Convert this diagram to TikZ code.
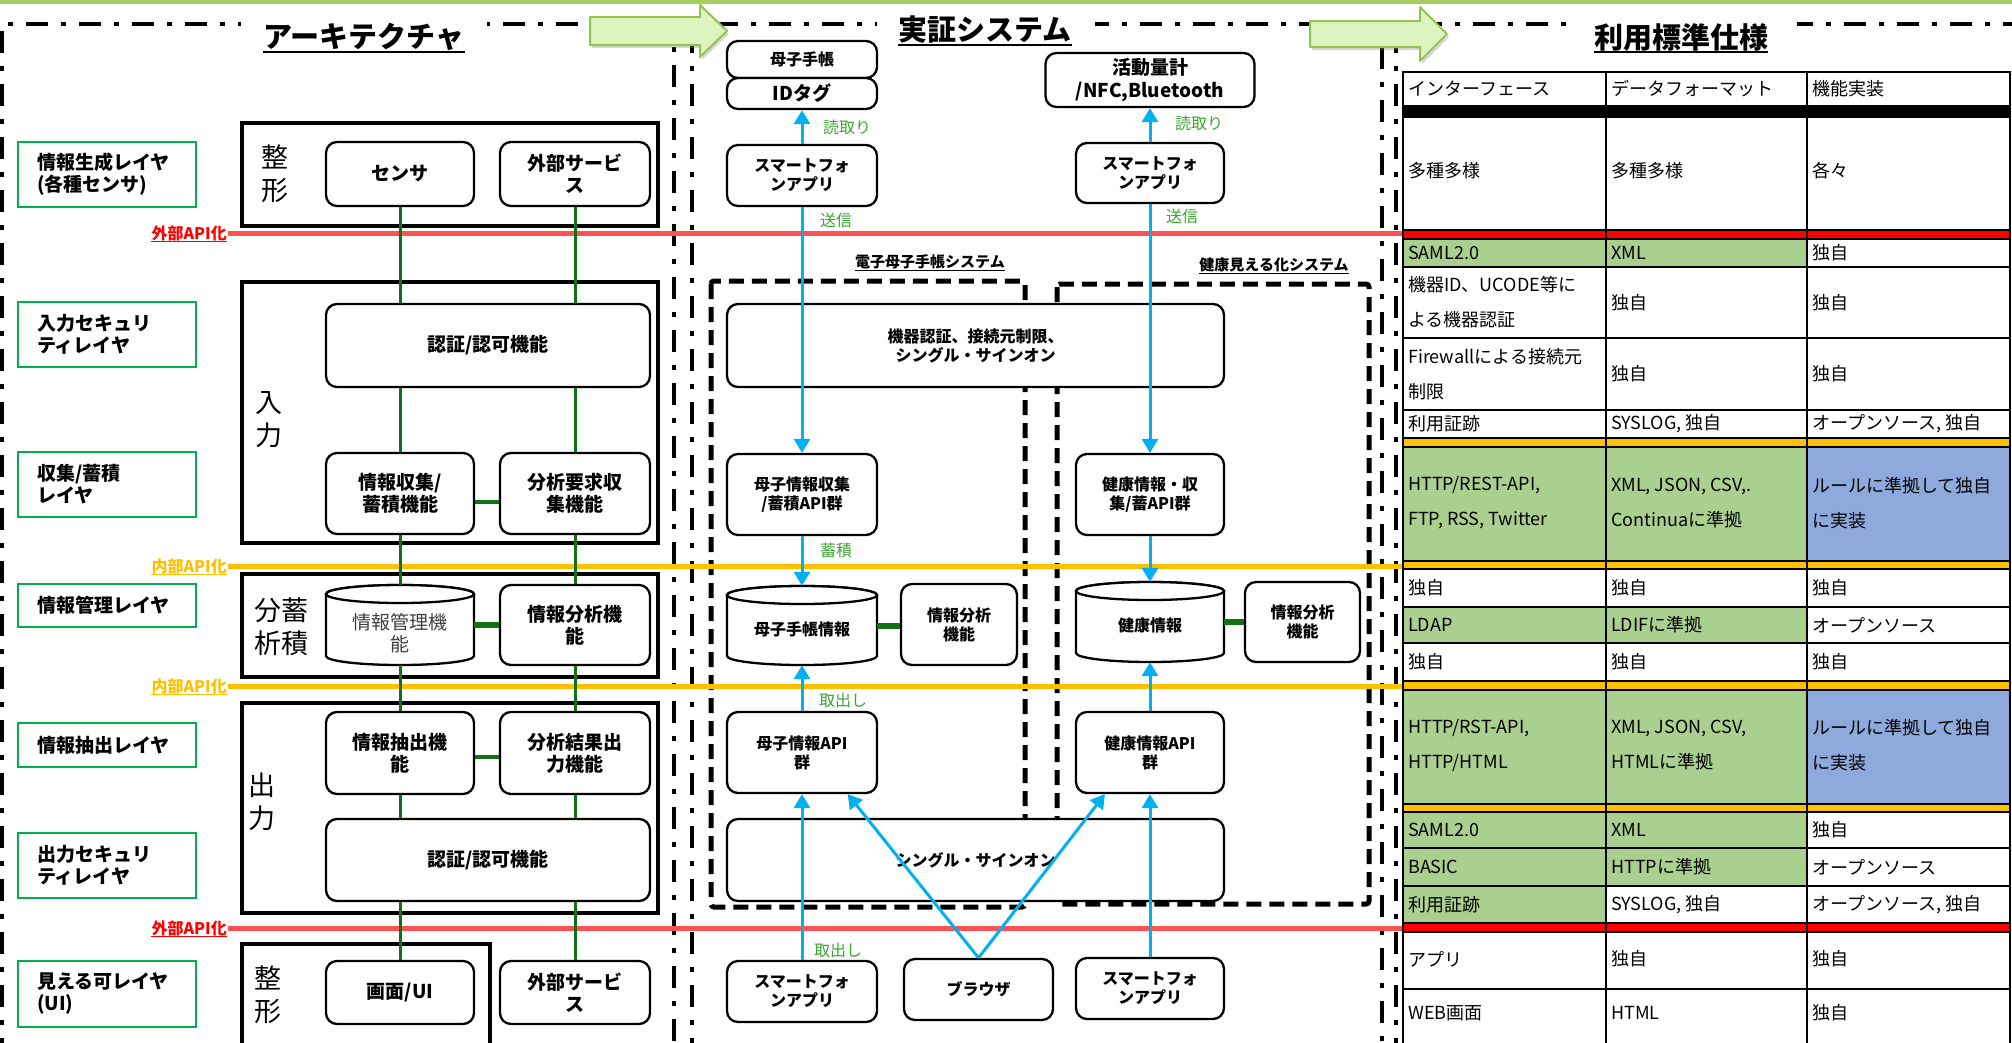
\documentclass[tikz,border=0pt]{standalone}
\usepackage{fontspec}
\setmainfont{Noto Sans CJK JP}
\usetikzlibrary{arrows.meta,calc,shadows}
\definecolor{lgreen}{RGB}{0,176,80}
\definecolor{dgreen}{RGB}{20,112,20}
\definecolor{skyblue}{RGB}{0,176,240}
\definecolor{lbl}{RGB}{60,165,50}
\definecolor{apired}{RGB}{255,82,82}
\definecolor{apiorange}{RGB}{255,192,0}
\definecolor{cellgreen}{RGB}{169,208,142}
\definecolor{cellblue}{RGB}{142,169,219}
\definecolor{topline}{RGB}{163,206,96}
\definecolor{arrowfill}{RGB}{222,244,192}
\definecolor{arrowedge}{RGB}{150,195,80}
\definecolor{bandred}{RGB}{255,0,0}
\definecolor{cyltext}{RGB}{64,64,64}
\newcommand\myfs[2]{\fontsize{#1}{#2}\selectfont}
% cylinder outline: left, top, right, bottom (screen coordinates)
\newcommand\drawcyl[4]{%
  \draw[cylline] (#1,#2+9) -- (#1,#4-9)
    arc[start angle=180, end angle=0, x radius={(#3-#1)/2}, y radius=9]
    -- (#3,#2+9)
    arc[start angle=0, end angle=-180, x radius={(#3-#1)/2}, y radius=9] -- cycle;
  \draw[cylline] ({(#1+#3)/2},#2+9) ellipse[x radius={(#3-#1)/2}, y radius=9];
}
\newcommand\tcell[4]{\node[cell] (#1) at (#2,#3) {#4};}
\begin{document}
\begin{tikzpicture}[x=1pt,y=-1pt,
  every node/.style={inner sep=0pt},
  rbox/.style={draw, line width=2.3pt, rounded corners=11pt, fill=white, align=center, font=\bfseries\myfs{19}{22}},
  mbox/.style={rbox, font=\bfseries\myfs{16}{19}},
  grpbox/.style={draw, line width=4.5pt},
  layerbox/.style={draw=lgreen, line width=1.6pt, align=left, text width=140pt, minimum width=178pt, font=\bfseries\myfs{19}{22}},
  sidelbl/.style={font=\myfs{27}{33}, align=center},
  gline/.style={draw=dgreen, line width=3pt},
  glink/.style={draw=dgreen, line width=5pt},
  barrow/.style={draw=skyblue, line width=3pt, -{Triangle[width=16pt,length=14pt]}},
  glbl/.style={text=lbl, font=\myfs{16}{19}},
  framel/.style={line width=4.5pt, dash pattern=on 22pt off 13pt on 5pt off 13pt},
  sysbox/.style={line width=5pt, dash pattern=on 15pt off 8pt, rounded corners=3pt},
  ttl/.style={font=\bfseries\myfs{29}{34}},
  syslbl/.style={font=\bfseries\myfs{15}{18}},
  apilbl/.style={font=\bfseries\myfs{16}{19}, anchor=east},
  cell/.style={anchor=west, align=left, font=\myfs{18}{35}},
  tgrid/.style={line width=2.4pt},
  cylline/.style={draw, line width=2.3pt, fill=white},
  blockarr/.style={fill=arrowfill, draw=arrowedge, line width=2pt, line join=round,
    drop shadow={opacity=0.3, shadow xshift=2pt, shadow yshift=-3pt}}
]
\useasboundingbox (0,0) rectangle (2012,1042);
\clip (0,0) rectangle (2012,1042);
\fill[white] (0,0) rectangle (2012,1042);
\fill[topline] (0,0) rectangle (2012,4);

% ---------- section frames ----------
\draw[framel] (2,1060) -- (2,24) -- (674,24) -- (674,1060);
\draw[framel] (692,1060) -- (692,24) -- (1382,24) -- (1382,1060);
\draw[framel] (1396,1060) -- (1396,24) -- (2040,24);

% ---------- section titles ----------
\fill[white] (241,9) rectangle (487,56);
\fill[white] (877,6) rectangle (1095,48);
\fill[white] (1573,9) rectangle (1797,56);
\node[ttl] (tArch) at (364,37) {アーキテクチャ};
\node[ttl] (tDemo) at (985,30) {実証システム};
\node[ttl] (tSpec) at (1681,37) {利用標準仕様};
\foreach \t in {tArch,tDemo,tSpec}
  \draw[line width=2pt] ([yshift=-1pt]\t.south west) -- ([yshift=-1pt]\t.south east);

% ---------- block arrows between sections ----------
\draw[blockarr] (590,17) -- (700,17) -- (700,5) -- (727,31) -- (700,57) -- (700,45) -- (590,45) -- cycle;
\draw[blockarr] (1310,21) -- (1420,21) -- (1420,7) -- (1447,34) -- (1420,61) -- (1420,47) -- (1310,47) -- cycle;

% ---------- system boundaries (middle) ----------
\draw[sysbox] (711,281) rectangle (1025,907);
\draw[sysbox] (1057,284) rectangle (1369,904);
\node[syslbl] (sysA) at (930,262) {電子母子手帳システム};
\node[syslbl] (sysB) at (1274,265) {健康見える化システム};
\foreach \t in {sysA,sysB}
  \draw[line width=1.5pt] ([yshift=-1pt]\t.south west) -- ([yshift=-1pt]\t.south east);

% ---------- API boundary lines ----------
\draw[apired, line width=5pt] (228,233) -- (1403,233);
\draw[apiorange, line width=5pt] (228,566) -- (1403,566);
\draw[apiorange, line width=5pt] (228,686) -- (1403,686);
\draw[apired, line width=5pt] (228,928) -- (1403,928);
\node[apilbl, text=bandred] (x1) at (227,233) {外部API化};
\node[apilbl, text=apiorange] (i1) at (227,566) {内部API化};
\node[apilbl, text=apiorange] (i2) at (227,686) {内部API化};
\node[apilbl, text=bandred] (x2) at (227,928) {外部API化};
\draw[bandred, line width=1.2pt] ([yshift=-1pt]x1.south west) -- ([yshift=-1pt]x1.south east);
\draw[apiorange, line width=1.2pt] ([yshift=-1pt]i1.south west) -- ([yshift=-1pt]i1.south east);
\draw[apiorange, line width=1.2pt] ([yshift=-1pt]i2.south west) -- ([yshift=-1pt]i2.south east);
\draw[bandred, line width=1.2pt] ([yshift=-1pt]x2.south west) -- ([yshift=-1pt]x2.south east);

% ---------- architecture: layers ----------
\node[layerbox, minimum height=65pt] (L1) at (107,174.5) {情報生成レイヤ\\(各種センサ)};
\node[layerbox, minimum height=65pt] (L2) at (107,334.5) {入力セキュリ\\ティレイヤ};
\node[layerbox, minimum height=65pt] (L3) at (107,484.5) {収集/蓄積\\レイヤ};
\node[layerbox, minimum height=43pt] (L4) at (107,605.5) {情報管理レイヤ};
\node[layerbox, minimum height=44pt] (L5) at (107,745) {情報抽出レイヤ};
\node[layerbox, minimum height=65pt] (L6) at (107,865.5) {出力セキュリ\\ティレイヤ};
\node[layerbox, minimum height=66pt] (L7) at (107,994) {見える可レイヤ\\(UI)};

% ---------- architecture: groups ----------
\draw[grpbox] (242,123) rectangle (658,226);
\draw[grpbox] (242,282) rectangle (658,543);
\draw[grpbox] (242,574) rectangle (658,677);
\draw[grpbox] (242,703) rectangle (658,913);
\draw[grpbox] (242,944) rectangle (490,1070);
\node[sidelbl] (s1) at (275,174) {整\\形};
\node[sidelbl] (s2) at (269,420) {入\\力};
\node[sidelbl] (s3) at (281,627) {分蓄\\析積};
\node[sidelbl] (s4) at (262,802) {出\\力};
\node[sidelbl] (s5) at (268,995) {整\\形};

% ---------- architecture: functions ----------
\node[rbox, minimum width=148pt, minimum height=64pt] (sensor) at (400,174) {センサ};
\node[rbox, minimum width=150pt, minimum height=64pt] (extA) at (575,174) {外部サービ\\ス};
\node[rbox, minimum width=324pt, minimum height=83pt] (authIn) at (488,345.5) {認証/認可機能};
\node[rbox, minimum width=148pt, minimum height=81pt] (collect) at (400,493.5) {情報収集/\\蓄積機能};
\node[rbox, minimum width=150pt, minimum height=81pt] (anreq) at (575,493.5) {分析要求収\\集機能};
\drawcyl{326}{585}{474}{665}
\node[minimum width=148pt, minimum height=80pt] (cylL) at (400,625) {};
\node[font=\myfs{19}{22}, text=cyltext, align=center] (cylLt) at (400,633) {情報管理機\\能};
\node[rbox, minimum width=150pt, minimum height=80pt] (anaL) at (575,625) {情報分析機\\能};
\node[rbox, minimum width=148pt, minimum height=82pt] (extract) at (400,753) {情報抽出機\\能};
\node[rbox, minimum width=150pt, minimum height=82pt] (anout) at (575,753) {分析結果出\\力機能};
\node[rbox, minimum width=324pt, minimum height=82pt] (authOut) at (488,860) {認証/認可機能};
\node[rbox, minimum width=148pt, minimum height=63pt] (ui) at (400,992.5) {画面/UI};
\node[rbox, minimum width=150pt, minimum height=63pt] (extB) at (575,992.5) {外部サービ\\ス};

\draw[gline] (sensor.south) -- (authIn.north -| sensor.south);
\draw[gline] (extA.south) -- (authIn.north -| extA.south);
\draw[gline] (authIn.south -| collect.north) -- (collect.north);
\draw[gline] (authIn.south -| anreq.north) -- (anreq.north);
\draw[glink, line width=4pt] ([yshift=-8pt]collect.east) -- ([yshift=-8pt]anreq.west);
\draw[gline] (collect.south) -- (cylL.north);
\draw[gline] (anreq.south) -- (anaL.north);
\draw[glink, line width=6pt] (cylL.east) -- (anaL.west);
\draw[gline] (cylL.south) -- (extract.north);
\draw[gline] (anaL.south) -- (anout.north);
\draw[glink, line width=4pt] ([yshift=-4pt]extract.east) -- ([yshift=-4pt]anout.west);
\draw[gline] (extract.south) -- (authOut.north -| extract.south);
\draw[gline] (anout.south) -- (authOut.north -| anout.south);
\draw[gline] (authOut.south -| ui.north) -- (ui.north);
\draw[gline] (authOut.south -| extB.north) -- (extB.north);

% ---------- demonstration system ----------
\node[mbox, minimum width=150pt, minimum height=37pt] (mch) at (802,59.5) {母子手帳};
\node[mbox, minimum width=150pt, minimum height=31pt, font=\bfseries\myfs{19}{22}] (idtag) at (802,93.5) {IDタグ};
\node[mbox, minimum width=150pt, minimum height=61pt] (spL1) at (802,175.5) {スマートフォ\\ンアプリ};
\node[mbox, minimum width=209pt, minimum height=54pt, font=\bfseries\myfs{19}{23}] (act) at (1150,80) {活動量計\\/NFC,Bluetooth};
\node[mbox, minimum width=148pt, minimum height=60pt] (spR1) at (1150,173) {スマートフォ\\ンアプリ};
\node[mbox, minimum width=497pt, minimum height=83pt] (auth2) at (975.5,345.5) {機器認証、接続元制限、\\シングル・サインオン};
\node[mbox, minimum width=150pt, minimum height=81pt] (mcol) at (802,494.5) {母子情報収集\\/蓄積API群};
\node[mbox, minimum width=148pt, minimum height=81pt] (hcol) at (1150,494.5) {健康情報・収\\集/蓄API群};
\drawcyl{727}{586}{877}{665}
\node[minimum width=150pt, minimum height=79pt] (cylM) at (802,625.5) {};
\node[font=\bfseries\myfs{16}{19}] (cylMt) at (802,629) {母子手帳情報};
\node[mbox, minimum width=116pt, minimum height=81pt] (anaM) at (959,624.5) {情報分析\\機能};
\drawcyl{1076}{582}{1224}{662}
\node[minimum width=148pt, minimum height=80pt] (cylH) at (1150,622) {};
\node[font=\bfseries\myfs{16}{19}] (cylHt) at (1150,625) {健康情報};
\node[mbox, minimum width=115pt, minimum height=80pt] (anaH) at (1302.5,622) {情報分析\\機能};
\node[mbox, minimum width=150pt, minimum height=81pt] (mapi) at (802,752.5) {母子情報API\\群};
\node[mbox, minimum width=148pt, minimum height=81pt] (hapi) at (1150,752.5) {健康情報API\\群};
\node[mbox, minimum width=497pt, minimum height=82pt] (sso) at (975.5,860) {シングル・サインオン};
\node[mbox, minimum width=150pt, minimum height=61pt] (spL2) at (802,991.5) {スマートフォ\\ンアプリ};
\node[mbox, minimum width=149pt, minimum height=61pt] (brw) at (978.5,989.5) {ブラウザ};
\node[mbox, minimum width=148pt, minimum height=61pt] (spR2) at (1150,988.5) {スマートフォ\\ンアプリ};

\draw[glink, line width=6pt] (cylM.east) -- (cylM.east -| anaM.west);
\draw[glink, line width=6pt] (cylH.east) -- (cylH.east -| anaH.west);

\draw[barrow] (spL1.north) -- (idtag.south);
\draw[barrow] (spR1.north) -- (act.south);
\draw[barrow] (spL1.south) -- (mcol.north);
\draw[barrow] (spR1.south) -- (hcol.north);
\draw[barrow] (mcol.south) -- (cylM.north);
\draw[barrow] (hcol.south) -- (cylH.north);
\draw[barrow] (mapi.north) -- (cylM.south);
\draw[barrow] (hapi.north) -- (cylH.south);
\draw[barrow] (spL2.north) -- (mapi.south);
\draw[barrow] (spR2.north) -- (hapi.south);
\draw[barrow] (brw.north) -- ($(mapi.south)!0.6!(mapi.south east)$);
\draw[barrow] (brw.north) -- ($(hapi.south)!0.6!(hapi.south west)$);

\node[glbl] (g1) at (847,127) {読取り};
\node[glbl] (g2) at (1199,123) {読取り};
\node[glbl] (g3) at (836,220) {送信};
\node[glbl] (g4) at (1182,216) {送信};
\node[glbl] (g5) at (836,550) {蓄積};
\node[glbl] (g6) at (843,700) {取出し};
\node[glbl] (g7) at (838,950) {取出し};

% ---------- standards table ----------
\fill[cellgreen] (1403,239) rectangle (1807,267);
\fill[cellgreen] (1403,447) rectangle (1807,561);
\fill[cellblue] (1807,447) rectangle (2010,561);
\fill[cellgreen] (1403,607) rectangle (1807,643);
\fill[cellgreen] (1403,690) rectangle (1807,804);
\fill[cellblue] (1807,690) rectangle (2010,804);
\fill[cellgreen] (1403,812) rectangle (1807,886);
\fill[cellgreen] (1403,886) rectangle (1606,923);
\fill[black] (1403,106) rectangle (2010,117);
\fill[bandred] (1403,230) rectangle (2010,239);
\fill[apiorange] (1403,438) rectangle (2010,447);
\fill[apiorange] (1403,561) rectangle (2010,569);
\fill[apiorange] (1403,681) rectangle (2010,690);
\fill[apiorange] (1403,804) rectangle (2010,812);
\fill[bandred] (1403,923) rectangle (2010,932);
\foreach \y in {72,106,117,230,239,267,338,410,438,447,561,569,607,643,681,690,804,812,848,886,923,932,989}
  \draw[tgrid] (1402,\y) -- (2011,\y);
\foreach \x in {1403,1606,1807,2010}
  \draw[tgrid] (\x,71) -- (\x,1060);

\tcell{h1}{1408}{89}{インターフェース}
\tcell{h2}{1611}{89}{データフォーマット}
\tcell{h3}{1812}{89}{機能実装}
\tcell{a1}{1408}{171}{多種多様}
\tcell{a2}{1611}{171}{多種多様}
\tcell{a3}{1812}{171}{各々}
\tcell{b1}{1408}{253}{SAML2.0}
\tcell{b2}{1611}{253}{XML}
\tcell{b3}{1812}{253}{独自}
\tcell{c1}{1408}{302.5}{機器ID、UCODE等に\\よる機器認証}
\tcell{c2}{1611}{302.5}{独自}
\tcell{c3}{1812}{302.5}{独自}
\tcell{d1}{1408}{374}{Firewallによる接続元\\制限}
\tcell{d2}{1611}{374}{独自}
\tcell{d3}{1812}{374}{独自}
\tcell{e1}{1408}{424}{利用証跡}
\tcell{e2}{1611}{424}{SYSLOG, 独自}
\tcell{e3}{1812}{424}{オープンソース, 独自}
\tcell{f1}{1408}{503}{HTTP/REST-API,\\FTP, RSS, Twitter}
\tcell{f2}{1611}{503}{XML, JSON, CSV,.\\Continuaに準拠}
\tcell{f3}{1812}{503}{ルールに準拠して独自\\に実装}
\tcell{k1}{1408}{588}{独自}
\tcell{k2}{1611}{588}{独自}
\tcell{k3}{1812}{588}{独自}
\tcell{l1}{1408}{625}{LDAP}
\tcell{l2}{1611}{625}{LDIFに準拠}
\tcell{l3}{1812}{625}{オープンソース}
\tcell{m1}{1408}{662}{独自}
\tcell{m2}{1611}{662}{独自}
\tcell{m3}{1812}{662}{独自}
\tcell{n1}{1408}{745}{HTTP/RST-API,\\HTTP/HTML}
\tcell{n2}{1611}{745}{XML, JSON, CSV,\\HTMLに準拠}
\tcell{n3}{1812}{745}{ルールに準拠して独自\\に実装}
\tcell{o1}{1408}{830}{SAML2.0}
\tcell{o2}{1611}{830}{XML}
\tcell{o3}{1812}{830}{独自}
\tcell{p1}{1408}{867}{BASIC}
\tcell{p2}{1611}{867}{HTTPに準拠}
\tcell{p3}{1812}{867}{オープンソース}
\tcell{q1}{1408}{904.5}{利用証跡}
\tcell{q2}{1611}{904.5}{SYSLOG, 独自}
\tcell{q3}{1812}{904.5}{オープンソース, 独自}
\tcell{r1}{1408}{959}{アプリ}
\tcell{r2}{1611}{959}{独自}
\tcell{r3}{1812}{959}{独自}
\tcell{w1}{1408}{1013}{WEB画面}
\tcell{w2}{1611}{1013}{HTML}
\tcell{w3}{1812}{1013}{独自}
\end{tikzpicture}
\end{document}
